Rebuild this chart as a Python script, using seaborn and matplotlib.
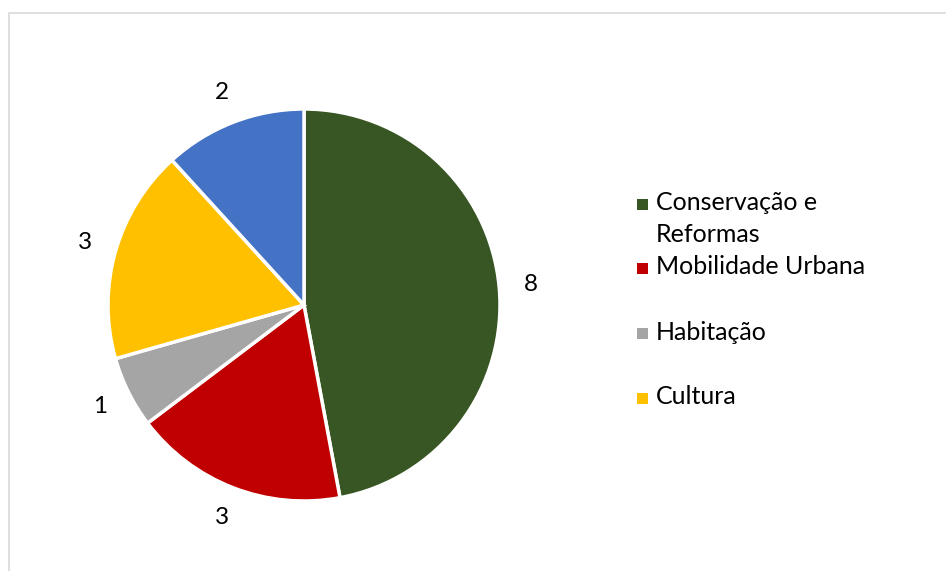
import matplotlib
matplotlib.use("Agg")
import matplotlib.pyplot as plt
import seaborn as sns
from matplotlib.patches import Rectangle

sns.set_theme(style="white")
plt.rcParams['font.family'] = ['Lato', 'DejaVu Sans']

categories = ["Conservação e\nReformas", "Mobilidade Urbana", "Habitação", "Cultura", "Outros"]
values = [8, 3, 1, 3, 2]
colors = ["#375623", "#C00000", "#A5A5A5", "#FFC000", "#4472C4"]
legend_shown = 4

W, H = 946, 571
fig = plt.figure(figsize=(W / 100, H / 100), dpi=100)
fig.patch.set_facecolor("white")
ax = fig.add_axes([0, 0, 1, 1])

# chart frame
ax.plot([8.5, 8.5, W + 5], [-5, H - 12.5, H - 12.5], color="#D9D9D9", lw=1.2, solid_capstyle="butt")

cx, cy, r = 304, H - 305, 196
wedges, texts = ax.pie(values, labels=[str(v) for v in values], colors=colors,
                       startangle=90, counterclock=False, center=(cx, cy), radius=r,
                       labeldistance=1.16, frame=True,
                       wedgeprops=dict(edgecolor="white", linewidth=2.5),
                       textprops=dict(fontsize=17.5, color="#000000"))
for t in texts:
    t.set_ha("center")
    t.set_va("center")
ax.set_xlim(0, W)
ax.set_ylim(0, H)
ax.axis("off")

# legend (manual layout in pixels)
leg_y = [204, 268, 333, 398]
line_gap = 32
for i in range(legend_shown):
    y = leg_y[i]
    ax.add_patch(Rectangle((637, H - y - 5.5), 11, 11, facecolor=colors[i], edgecolor="none"))
    for j, line in enumerate(categories[i].split("\n")):
        ax.text(656, H - y - j * line_gap + 1, line, fontsize=18, va="center", ha="left",
                color="#000000")

fig.savefig("out.png", dpi=100, facecolor="white")
